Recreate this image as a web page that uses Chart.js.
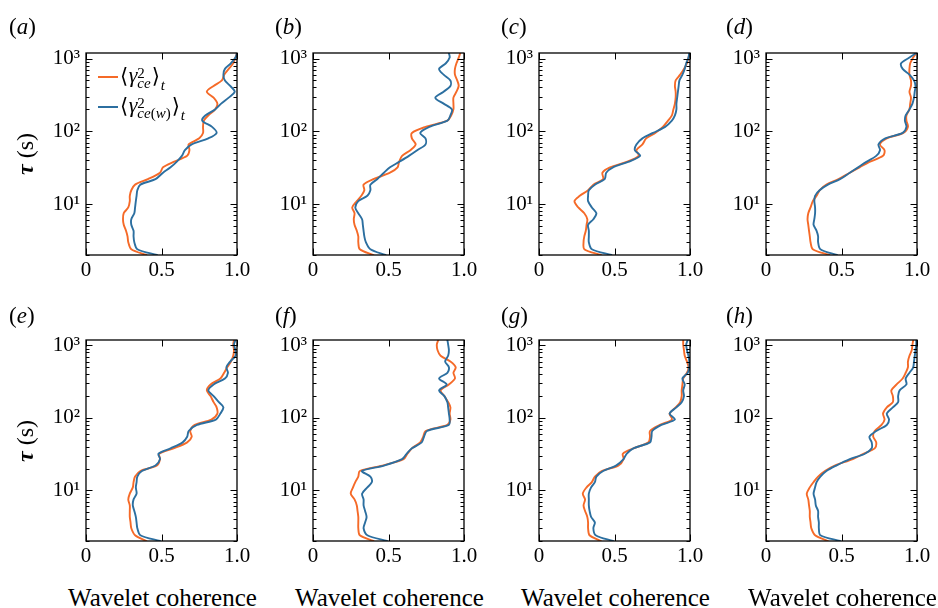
<!DOCTYPE html>
<html><head><meta charset="utf-8">
<script src="https://cdn.jsdelivr.net/npm/chart.js@4.4.1/dist/chart.umd.min.js"></script>
<style>
html,body{margin:0;padding:0;background:#fff;}
#wrap{position:relative;width:938px;height:608px;overflow:hidden;background:#fff;font-family:"Liberation Serif","Times New Roman",serif;color:#000;}
canvas{position:absolute;}
.plab{position:absolute;font-size:23px;line-height:23px;white-space:nowrap;}
.ytitle{position:absolute;font-size:24px;line-height:24px;width:80px;height:24px;text-align:center;transform:rotate(-90deg);white-space:nowrap;}
.xtitle{position:absolute;font-size:25px;line-height:25px;width:260px;text-align:center;white-space:nowrap;}
</style></head>
<body><div id="wrap"></div>
<script>
// ---- data ----
const TAU = [2, 2.4, 3, 3.6, 4.3, 5.2, 6.2, 7.5, 9, 11, 13, 15.5, 18.5, 22, 27, 32, 38, 46, 55, 66, 80, 95, 115, 140, 165, 200, 240, 290, 350, 420, 500, 600, 720, 860, 1030, 1190];
const PANELS = ['a','b','c','d','e','f','g','h'];
const X_MAJOR = [0, 0.5, 1];
const X_LABELS = ['0', '0.5', '1.0'];
const Y_MAJOR = [10, 100, 1000];
const Y_LABELS = ['10\u00B9', '10\u00B2', '10\u00B3'];
const Y_MINOR = [2,3,4,5,6,7,8,9,20,30,40,50,60,70,80,90,200,300,400,500,600,700,800,900];
const X_TITLE = 'Wavelet coherence';

const ORANGE_A = [0.40,0.30,0.28,0.275,0.265,0.25,0.245,0.25,0.28,0.29,0.29,0.30,0.325,0.41,0.49,0.51,0.58,0.67,0.685,0.68,0.75,0.775,0.775,0.78,0.81,0.855,0.87,0.845,0.80,0.845,0.90,0.915,0.945,0.975,0.99,1.0];
const BLUE_A   = [0.47,0.34,0.32,0.315,0.315,0.30,0.30,0.32,0.325,0.33,0.335,0.34,0.36,0.46,0.51,0.56,0.60,0.635,0.655,0.70,0.81,0.865,0.835,0.77,0.79,0.855,0.895,0.945,0.985,0.955,0.92,0.91,0.92,0.96,0.99,1.0];
const ORANGE_B = [0.40,0.31,0.30,0.30,0.29,0.275,0.27,0.275,0.26,0.29,0.32,0.34,0.335,0.40,0.51,0.56,0.57,0.59,0.645,0.68,0.655,0.655,0.745,0.89,0.915,0.93,0.93,0.93,0.95,0.965,0.955,0.94,0.94,0.95,0.965,0.975];
const BLUE_B   = [0.48,0.38,0.35,0.34,0.335,0.33,0.325,0.30,0.28,0.30,0.36,0.38,0.38,0.425,0.47,0.51,0.57,0.635,0.69,0.745,0.745,0.71,0.77,0.89,0.91,0.92,0.865,0.81,0.865,0.91,0.91,0.865,0.835,0.88,0.905,0.90];
const ORANGE_C = [0.41,0.30,0.295,0.30,0.31,0.315,0.32,0.30,0.26,0.235,0.27,0.325,0.36,0.425,0.42,0.47,0.58,0.66,0.645,0.685,0.71,0.77,0.82,0.855,0.88,0.89,0.90,0.905,0.905,0.90,0.905,0.935,0.96,0.98,0.99,1.0];
const BLUE_C   = [0.48,0.35,0.33,0.33,0.33,0.325,0.36,0.38,0.35,0.325,0.325,0.33,0.37,0.435,0.445,0.49,0.59,0.67,0.635,0.645,0.685,0.755,0.835,0.88,0.90,0.91,0.91,0.915,0.92,0.925,0.93,0.95,0.965,0.975,0.99,0.995];
const ORANGE_D = [0.42,0.31,0.295,0.29,0.285,0.28,0.275,0.28,0.295,0.31,0.335,0.355,0.40,0.48,0.555,0.62,0.685,0.775,0.785,0.755,0.80,0.91,0.94,0.93,0.93,0.95,0.955,0.96,0.95,0.96,0.96,0.95,0.95,0.955,0.975,0.995];
const BLUE_D   = [0.47,0.36,0.345,0.345,0.335,0.315,0.32,0.325,0.325,0.32,0.325,0.355,0.41,0.49,0.555,0.61,0.665,0.73,0.755,0.745,0.79,0.905,0.93,0.92,0.925,0.95,0.97,0.98,0.985,0.99,0.98,0.95,0.905,0.895,0.95,0.995];
const ORANGE_E = [0.40,0.325,0.30,0.295,0.29,0.29,0.29,0.28,0.29,0.31,0.315,0.325,0.36,0.47,0.49,0.485,0.58,0.67,0.70,0.69,0.72,0.83,0.87,0.865,0.845,0.825,0.80,0.825,0.89,0.915,0.935,0.96,0.975,0.98,0.975,0.98];
const BLUE_E   = [0.49,0.36,0.34,0.335,0.33,0.32,0.31,0.315,0.335,0.33,0.335,0.34,0.37,0.46,0.49,0.48,0.56,0.64,0.67,0.68,0.735,0.86,0.89,0.91,0.88,0.845,0.81,0.845,0.92,0.94,0.93,0.955,0.99,0.99,0.98,0.99];
const ORANGE_F = [0.40,0.31,0.30,0.30,0.30,0.295,0.29,0.275,0.25,0.265,0.28,0.30,0.31,0.46,0.60,0.625,0.655,0.71,0.73,0.745,0.89,0.91,0.905,0.91,0.895,0.87,0.845,0.90,0.94,0.93,0.945,0.91,0.845,0.825,0.82,0.83];
const BLUE_F   = [0.49,0.36,0.335,0.345,0.355,0.345,0.335,0.335,0.325,0.36,0.39,0.38,0.325,0.47,0.59,0.62,0.655,0.72,0.735,0.755,0.90,0.905,0.90,0.895,0.89,0.87,0.835,0.885,0.835,0.89,0.90,0.875,0.895,0.90,0.895,0.89];
const ORANGE_G = [0.41,0.335,0.325,0.325,0.32,0.305,0.295,0.305,0.29,0.315,0.35,0.37,0.415,0.525,0.56,0.555,0.625,0.725,0.735,0.735,0.80,0.88,0.865,0.905,0.935,0.945,0.945,0.95,0.955,0.98,0.99,0.98,0.965,0.96,0.955,0.955];
const BLUE_G   = [0.49,0.375,0.36,0.37,0.345,0.335,0.33,0.33,0.33,0.345,0.37,0.38,0.425,0.51,0.56,0.58,0.625,0.735,0.745,0.75,0.81,0.90,0.865,0.91,0.945,0.96,0.955,0.965,0.95,0.985,0.995,0.995,0.99,0.98,0.975,0.985];
const ORANGE_H = [0.41,0.325,0.30,0.295,0.29,0.29,0.285,0.28,0.27,0.29,0.315,0.345,0.39,0.455,0.575,0.645,0.72,0.73,0.71,0.72,0.765,0.785,0.775,0.80,0.84,0.84,0.83,0.865,0.905,0.925,0.94,0.94,0.95,0.965,0.97,0.975];
const BLUE_H   = [0.49,0.36,0.35,0.35,0.345,0.345,0.33,0.325,0.315,0.325,0.335,0.36,0.40,0.465,0.555,0.655,0.70,0.70,0.685,0.73,0.80,0.815,0.80,0.84,0.875,0.875,0.885,0.93,0.925,0.95,0.975,0.98,0.985,0.99,0.995,0.995];

const ORANGE_SERIES = [ORANGE_A, ORANGE_B, ORANGE_C, ORANGE_D, ORANGE_E, ORANGE_F, ORANGE_G, ORANGE_H];
const BLUE_SERIES = [BLUE_A, BLUE_B, BLUE_C, BLUE_D, BLUE_E, BLUE_F, BLUE_G, BLUE_H];

// ---- layout / style ----
const ORANGE = '#f56a28';
const BLUE = '#2c6fa0';
const COL_LEFT = [86, 313, 539, 766];
const PLOT_W = 151;
const ROW_TOP = [53, 340];
const ROW_H = [202, 201];
const LAB_X = [9, 275, 501, 726];
const LAB_Y = [15, 304];
const SERIF = '"Liberation Serif", "Times New Roman", serif';

const framePlugin = {
  id: 'frame',
  afterDraw(chart) {
    const {ctx, chartArea: a} = chart;
    const x = chart.scales.x, y = chart.scales.y;
    ctx.save();
    ctx.strokeStyle = '#000';
    ctx.lineWidth = 1;
    ctx.beginPath();
    const hTick = (v, len) => {
      const py = Math.round(y.getPixelForValue(v)) + 0.5;
      ctx.moveTo(a.left, py); ctx.lineTo(a.left + len, py);
      ctx.moveTo(a.right, py); ctx.lineTo(a.right - len, py);
    };
    Y_MAJOR.forEach(v => hTick(v, 6.5));
    Y_MINOR.forEach(v => hTick(v, 3.5));
    X_MAJOR.forEach(v => {
      const px = Math.round(x.getPixelForValue(v)) + 0.5;
      ctx.moveTo(px, a.bottom); ctx.lineTo(px, a.bottom - 6.5);
      ctx.moveTo(px, a.top); ctx.lineTo(px, a.top + 6.5);
    });
    ctx.stroke();
    ctx.lineWidth = 1.3;
    ctx.strokeRect(a.left, a.top, a.right - a.left, a.bottom - a.top);
    ctx.restore();
  }
};

const legendPlugin = {
  id: 'mathLegend',
  afterDraw(chart, args, opts) {
    if (!opts || !opts.show) return;
    const {ctx, chartArea: a} = chart;
    const items = [
      {color: ORANGE, dy: 24, sub: [['ce', 'i']]},
      {color: BLUE, dy: 54, sub: [['ce', 'i'], ['(', 'n'], ['w', 'i'], [')', 'n']]}
    ];
    ctx.save();
    items.forEach(it => {
      const ly = a.top + it.dy;
      ctx.strokeStyle = it.color; ctx.lineWidth = 2;
      ctx.beginPath(); ctx.moveTo(a.left + 12, ly); ctx.lineTo(a.left + 32, ly); ctx.stroke();
      ctx.fillStyle = '#000'; ctx.textAlign = 'left'; ctx.textBaseline = 'alphabetic';
      const base = ly + 5;
      let x = a.left + 34;
      const put = (t, font, yy, adv) => { ctx.font = font; ctx.fillText(t, x, yy); const w = ctx.measureText(t).width; if (adv !== false) x += w; return w; };
      put('\u27E8', '21px "DejaVu Serif", ' + SERIF, base + 1);
      x += 0.5;
      put('\u03B3', 'italic 22px ' + SERIF, base);
      const sx = x;
      const w2 = put('2', '15px ' + SERIF, base - 4, false);
      let sw = 0;
      it.sub.forEach(([t, st]) => {
        ctx.font = (st === 'i' ? 'italic ' : '') + '15px ' + SERIF;
        ctx.fillText(t, sx + sw, base + 6);
        sw += ctx.measureText(t).width;
      });
      x = sx + Math.max(w2, sw) + 1;
      put('\u27E9', '21px "DejaVu Serif", ' + SERIF, base + 1);
      x += 1;
      put('t', 'italic 15px ' + SERIF, base + 8);
    });
    ctx.restore();
  }
};

const wrap = document.getElementById('wrap');

PANELS.forEach((p, idx) => {
  const col = idx % 4, row = Math.floor(idx / 4);
  const L = COL_LEFT[col], T = ROW_TOP[row], H = ROW_H[row];
  const padTop = 20, padRight = 20, yW = 70;
  const cTop = T - padTop;
  const cH = H + padTop + 36;
  const xH = cH - padTop - H;
  const cv = document.createElement('canvas');
  cv.width = yW + PLOT_W + padRight; cv.height = cH;
  cv.style.left = (L - yW) + 'px'; cv.style.top = cTop + 'px';
  cv.style.width = cv.width + 'px'; cv.style.height = cH + 'px';
  wrap.appendChild(cv);

  const lab = document.createElement('div');
  lab.className = 'plab';
  lab.style.left = LAB_X[col] + 'px'; lab.style.top = LAB_Y[row] + 'px';
  lab.innerHTML = '(<i>' + p + '</i>)';
  wrap.appendChild(lab);

  if (col === 0) {
    const yt = document.createElement('div');
    yt.className = 'ytitle';
    const cy = T + H / 2;
    yt.style.left = (25 - 40) + 'px'; yt.style.top = (cy - 12) + 'px';
    yt.innerHTML = '<b><i>\u03C4</i></b> (s)';
    wrap.appendChild(yt);
  }
  if (row === 1) {
    const xt = document.createElement('div');
    xt.className = 'xtitle';
    xt.style.left = (L + PLOT_W / 2 - 130 + 1) + 'px'; xt.style.top = '585px';
    xt.textContent = X_TITLE;
    wrap.appendChild(xt);
  }

  const mk = (arr) => TAU.map((t, i) => ({x: arr[i], y: t}));
  new Chart(cv, {
    type: 'scatter',
    data: {
      datasets: [
        {label: '\u27E8\u03B3\u00B2ce(w)\u27E9t', data: mk(BLUE_SERIES[idx]), borderColor: BLUE, backgroundColor: BLUE, showLine: true, order: 1},
        {label: '\u27E8\u03B3\u00B2ce\u27E9t', data: mk(ORANGE_SERIES[idx]), borderColor: ORANGE, backgroundColor: ORANGE, showLine: true, order: 2}
      ]
    },
    options: {
      responsive: false, animation: false, devicePixelRatio: 1,
      layout: {padding: {left: 0, top: padTop, right: padRight, bottom: 0}},
      elements: {point: {radius: 0, hoverRadius: 0}, line: {borderWidth: 1.9, tension: 0.3, borderCapStyle: 'round', borderJoinStyle: 'round'}},
      events: [],
      plugins: {legend: {display: false}, tooltip: {enabled: false}, mathLegend: {show: idx === 0}},
      scales: {
        x: {
          type: 'linear', min: 0, max: 1,
          afterBuildTicks: s => { s.ticks = X_MAJOR.map(v => ({value: v})); },
          afterFit: s => { s.height = xH; },
          grid: {display: false, drawTicks: false}, border: {display: false},
          ticks: {color: '#000', font: {family: SERIF, size: 21}, padding: 3, maxRotation: 0, autoSkip: false,
                  callback: (v, i) => X_LABELS[i]}
        },
        y: {
          type: 'logarithmic', min: 2, max: 1190,
          afterBuildTicks: s => { s.ticks = Y_MAJOR.map(v => ({value: v})); },
          afterFit: s => { s.width = yW; },
          grid: {display: false, drawTicks: false}, border: {display: false},
          ticks: {color: '#000', font: {family: SERIF, size: 21}, padding: 6, autoSkip: false,
                  callback: (v) => Y_LABELS[Y_MAJOR.indexOf(v)]}
        }
      }
    },
    plugins: [framePlugin, legendPlugin]
  });
});
</script>
</body></html>
